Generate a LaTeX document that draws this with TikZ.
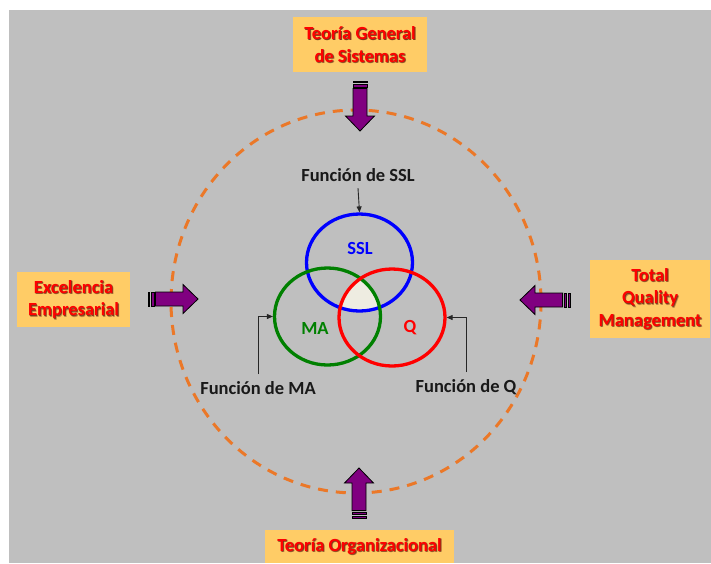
\documentclass[tikz,border=0pt]{standalone}
\usepackage{fontspec}
\setmainfont{Carlito}
\usetikzlibrary{shapes.geometric,arrows.meta}

\definecolor{panelgray}{RGB}{191,191,191}
\definecolor{boxorange}{RGB}{255,204,102}
\definecolor{ringorange}{RGB}{235,120,40}
\definecolor{arrowpurple}{RGB}{128,0,128}
\definecolor{sslblue}{RGB}{0,0,255}
\definecolor{magreen}{RGB}{0,128,0}
\definecolor{qred}{RGB}{255,0,0}
\definecolor{overlapcream}{RGB}{238,236,225}

% red caption with a soft dark drop shadow, centred on a box node
\newcommand\sourcelabel[2]{%
  \node[sourceshadow] at ([shift={(1.3,1.3)}]#1.center) {#2};
  \node[sourceshadow] at ([shift={(0.6,0.9)}]#1.center) {#2};
  \node[sourceshadow] at ([shift={(0.9,0.4)}]#1.center) {#2};
  \node[sourcetext] at (#1.center) {#2};}

\tikzset{
  arrowbody/.style={fill=arrowpurple, draw=black, line width=0.8pt, line join=miter},
  % striped block arrow, tail at the origin, pointing along +x
  stripedarrow/.pic={
    \path[arrowbody] (0,-7) rectangle (1.8,7);
    \path[arrowbody] (3.2,-7) rectangle (6,7);
    \path[arrowbody] (7.4,-7) -- (35,-7) -- (35,-14.5) -- (50,0)
                     -- (35,14.5) -- (35,7) -- (7.4,7) -- cycle;
  }
}

\begin{document}
\begin{tikzpicture}[x=1pt,y=-1pt,
  every node/.style={font=\fontsize{18.5}{22.5}\selectfont\bfseries},
  sourcebox/.style={fill=boxorange, inner sep=0pt, outer sep=0pt},
  sourcetext/.style={text=qred, align=center, inner sep=0pt},
  sourceshadow/.style={text=black!70!red, text opacity=0.35, align=center, inner sep=0pt},
  venn/.style={ellipse, draw, line width=3.3pt, minimum width=106pt,
               minimum height=97pt, inner sep=0pt, outer sep=1.6pt},
  vennlabel/.style={font=\fontsize{18.5}{22}\selectfont\bfseries},
  funclabel/.style={text=black!90, anchor=base, inner sep=2pt, outer sep=5pt},
  pointer/.style={draw=black!85, line width=0.9pt,
                  -{Triangle[length=6pt,width=5pt]}}
]
\useasboundingbox (0,0) rectangle (711,563);
\fill[white] (0,0) rectangle (711,563);
\fill[panelgray] (9,10) rectangle (711,563);

% dashed boundary of the system
\draw[ringorange, line width=3pt, dash pattern=on 10pt off 8pt]
  (356,301.5) ellipse [x radius=185, y radius=191.5];

% source boxes
\node[sourcebox, minimum width=134pt, minimum height=55pt] (tgs)  at (360,44.5)  {};
\node[sourcebox, minimum width=113pt, minimum height=55pt] (exc)  at (73.5,299.5) {};
\node[sourcebox, minimum width=120pt, minimum height=78pt] (tqm)  at (650,299)   {};
\node[sourcebox, minimum width=189pt, minimum height=33pt] (torg) at (359.5,546.5) {};

\sourcelabel{tgs}{Teoría General\\de Sistemas}
\sourcelabel{exc}{Excelencia\\Empresarial}
\sourcelabel{tqm}{Total\\Quality\\Management}
\sourcelabel{torg}{Teoría Organizacional}

% inflow arrows
\pic[rotate=-90] at (360,81)  {stripedarrow};
\pic             at (148,299) {stripedarrow};
\pic[rotate=180] at (570,300) {stripedarrow};
\pic[rotate=90]  at (359,518) {stripedarrow};

% common core of the three functions
\begin{scope}
  \clip (359.5,262.5) ellipse [x radius=53, y radius=48.5];
  \clip (327.5,316.5) ellipse [x radius=53, y radius=48.5];
  \fill[overlapcream] (392,317.5) ellipse [x radius=53, y radius=48.5];
\end{scope}

% the three functions
\node[venn, draw=sslblue] (ssl) at (359.5,262.5) {};
\node[venn, draw=magreen] (ma)  at (327.5,316.5) {};
\node[venn, draw=qred]    (q)   at (392,317.5)   {};

\node[vennlabel, text=sslblue] (sslt) at (360,248) {SSL};
\node[vennlabel, text=magreen] (mat)  at (315,328) {MA};
\node[vennlabel, text=qred]    (qt)   at (410,328) {Q};

% function captions and their pointers
\node[funclabel] (fssl) at (358,181) {Función de SSL};
\node[funclabel] (fma)  at (258,394) {Función de MA};
\node[funclabel] (fq)   at (466,392) {Función de Q};

\draw[pointer] (fssl.south) -- (ssl.north);
\draw[pointer] (fma.north) |- (ma.west);
\draw[pointer] (fq.north) |- (q.east);
\end{tikzpicture}
\end{document}
